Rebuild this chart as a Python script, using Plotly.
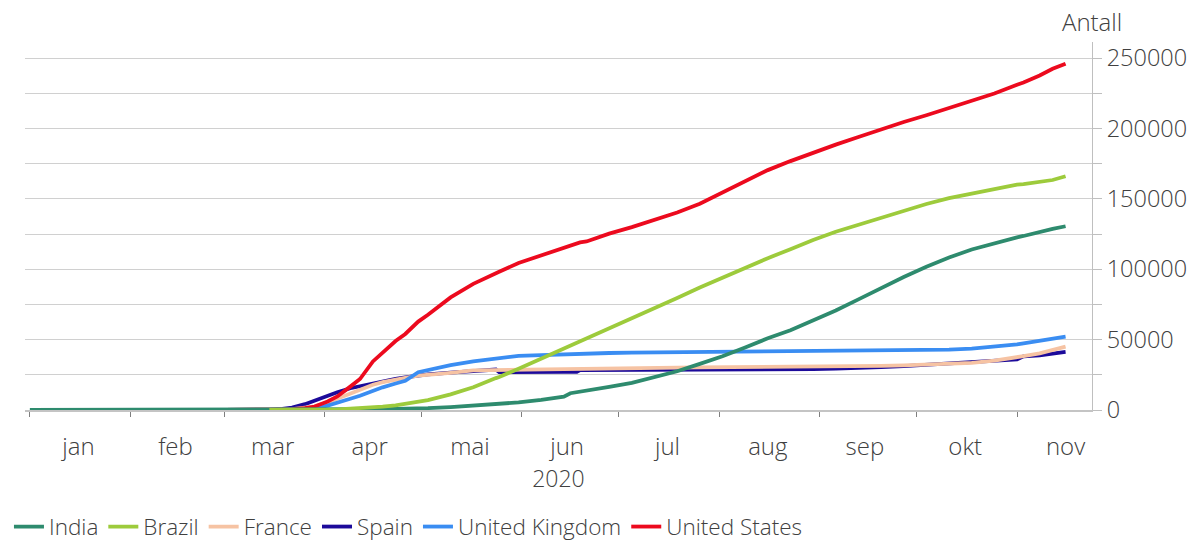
import plotly.graph_objects as go

dates = ["2020-01-01", "2020-02-01", "2020-03-01", "2020-03-08", "2020-03-12", "2020-03-15",
         "2020-03-19", "2020-03-22", "2020-03-26", "2020-03-29", "2020-04-02", "2020-04-05",
         "2020-04-09", "2020-04-12", "2020-04-16", "2020-04-19", "2020-04-23", "2020-04-26",
         "2020-04-30", "2020-05-03", "2020-05-10", "2020-05-17", "2020-05-24", "2020-05-25",
         "2020-05-31", "2020-06-07", "2020-06-14", "2020-06-16", "2020-06-18", "2020-06-19",
         "2020-06-21", "2020-06-28", "2020-07-05", "2020-07-12", "2020-07-19", "2020-07-26",
         "2020-08-02", "2020-08-09", "2020-08-16", "2020-08-23", "2020-08-30", "2020-09-06",
         "2020-09-13", "2020-09-20", "2020-09-27", "2020-10-04", "2020-10-11", "2020-10-18",
         "2020-10-25", "2020-11-01", "2020-11-03", "2020-11-08", "2020-11-12", "2020-11-16"]

india = [0, 0, 0, 0, 1, 2, 4, 7, 13, 27, 72, 109, 199, 324, 437, 543, 718, 826,
         1075, 1323, 2109, 3029, 4021, 4172, 5394, 7135, 9520, 11903, 12573, 12948,
         13699, 16475, 19268, 23174, 27497, 32771, 38135, 44386, 50921, 56706, 63498, 70626,
         78586, 86752, 94503, 101782, 108334, 114031, 118534, 122607, 123611, 126611, 128668, 130519]

brazil = [None, None, None, None, None, 0, 6, 25, 77, 136, 324, 486, 957, 1223, 1952, 2462, 3331, 4271,
          5901, 7025, 11123, 16118, 22666, 23473, 29314, 36455, 43332, 45241, 47748, 48954,
          50617, 57622, 64867, 72100, 79488, 87004, 94104, 101049, 107852, 114250, 120828, 126650,
          131625, 136532, 141406, 146352, 150488, 153905, 157134, 160074, 160496, 162397, 163368, 166014]

france = [None, None, 0, 19, 61, 127, 372, 674, 1698, 2606, 5398, 8093, 12228, 14412, 17941, 19744, 21889, 22890,
          24410, 24899, 26383, 28111, 28370, 28462, 28805, 29158, 29413, 29550, 29600, 29620,
          29643, 29781, 29896, 30007, 30155, 30209, 30296, 30327, 30410, 30515, 30635, 30730,
          30999, 31274, 31727, 32299, 32942, 33477, 35052, 37057, 38289, 40220, 42599, 45054]

spain = [None, None, 0, 17, 86, 297, 830, 1772, 4145, 6803, 10348, 12641, 15447, 16972, 19130, 20453, 22157, 23190,
         24543, 25264, 26621, 27650, 28752, 26834, 27127, 27136, 27136, 27136, 27136, 28315,
         28322, 28346, 28385, 28403, 28420, 28432, 28445, 28503, 28617, 28872, 29094, 29418,
         29747, 30495, 31232, 32225, 32929, 33775, 34752, 35878, 38118, 38833, 40105, 41253]

uk = [None, None, 0, 3, 8, 35, 137, 281, 759, 1228, 3095, 4943, 7978, 10129, 13729, 16095, 18791, 20732,
      26800, 28500, 31900, 34600, 36800, 36900, 38500, 39000, 39700, 39800, 40000, 40050,
      40150, 40500, 40700, 40850, 40950, 41050, 41150, 41250, 41350, 41400, 41450, 41550,
      41650, 41800, 42000, 42350, 42900, 43600, 44900, 46600, 47300, 49200, 50900, 52200]

us = [None, None, 1, 21, 43, 68, 200, 471, 1300, 2470, 6100, 9600, 16600, 22000, 34500, 40600, 49000, 54000,
      62800, 67700, 80000, 89600, 97700, 98200, 104400, 110000, 115500, 116800, 118400, 119100,
      119700, 125300, 129900, 134800, 140300, 146500, 154400, 162400, 170400, 176800, 183000, 188500,
      193900, 199300, 204600, 209400, 214400, 219300, 224800, 231000, 232600, 237600, 242400, 246000]

month_mid = ["2020-01-16", "2020-02-15", "2020-03-16", "2020-04-15", "2020-05-16", "2020-06-15",
             "2020-07-16", "2020-08-16", "2020-09-15", "2020-10-16", "2020-11-16"]
month_labels = ["jan", "feb", "mar", "apr", "mai", "jun", "jul", "aug", "sep", "okt", "nov"]
month_starts = ["2020-01-01", "2020-02-01", "2020-03-01", "2020-04-01", "2020-05-01", "2020-06-01",
                "2020-07-01", "2020-08-01", "2020-09-01", "2020-10-01", "2020-11-01"]

series = [
    # (name, values, color, legend rank) in drawing order
    ("Spain", spain, "#1C0A9A", 4),
    ("France", france, "#F6C3A3", 3),
    ("United Kingdom", uk, "#3A8DF2", 5),
    ("United States", us, "#EC0A1E", 6),
    ("India", india, "#2E8B6E", 1),
    ("Brazil", brazil, "#9DCB3C", 2),
]

fig = go.Figure()
for name, vals, color, rank in series:
    fig.add_trace(go.Scatter(x=dates, y=vals, mode="lines", name=name,
                             line=dict(color=color, width=3.8), legendrank=rank,
                             connectgaps=False))

grid = "#d0d0d0"
txt = "#404040"
fig.update_layout(
    width=1195, height=541,
    margin=dict(l=25, r=103, t=42, b=131, autoexpand=False),
    plot_bgcolor="white", paper_bgcolor="white",
    font=dict(family="Open Sans", size=23, color=txt, weight=300),
    legend=dict(orientation="h", xref="container", yref="container",
                x=0.0075, xanchor="left", y=0.026, yanchor="middle",
                font=dict(size=22.5, color=txt), traceorder="normal", itemwidth=30),
    xaxis=dict(
        type="date", range=["2019-12-30 12:00", "2020-11-24 04:00"],
        tickmode="array", tickvals=month_mid, ticktext=month_labels,
        ticks="", showgrid=False, showline=True, linecolor="#c4c4c4", linewidth=1.5,
        ticklabelstandoff=14, tickfont=dict(size=24, color=txt), automargin=False,
        minor=dict(tickmode="array", tickvals=month_starts, ticks="outside", ticklen=5,
                   tickcolor="#7f7f7f", tickwidth=1, showgrid=False),
        title=dict(text="2020", standoff=8, font=dict(size=23, color=txt)),
        zeroline=False,
    ),
    yaxis=dict(
        side="right", range=[0, 261400], tick0=0, dtick=50000,
        showgrid=True, gridcolor=grid, gridwidth=1, automargin=False,
        ticks="outside", ticklen=9, tickcolor="#bfbfbf", tickwidth=1,
        minor=dict(dtick=25000, showgrid=True, gridcolor=grid, gridwidth=1,
                   ticks="outside", ticklen=9, tickcolor="#bfbfbf", tickwidth=1),
        showline=True, linecolor="#bfbfbf", linewidth=1,
        zeroline=False, tickfont=dict(size=23.5, color=txt), tickformat="d",
    ),
    annotations=[dict(text="Antall", xref="paper", yref="paper", x=1.0, y=1.057,
                      xanchor="center", yanchor="middle", showarrow=False,
                      font=dict(size=24, color=txt))],
)

fig.write_html("out.html", config={"displayModeBar": False},
               post_script="document.body.style.margin='0';")
